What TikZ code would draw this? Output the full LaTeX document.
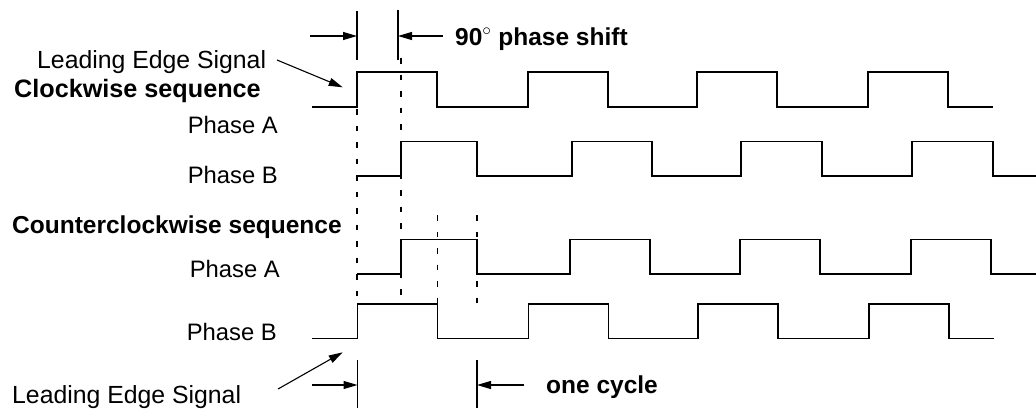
\documentclass[tikz,border=0pt]{standalone}
\usepackage{fontspec}
\setmainfont{Liberation Sans}
\usetikzlibrary{arrows.meta}
\tikzset{
  wave/.style={line width=1.2pt, line join=miter},
  guide/.style={line width=1.1pt, dash pattern=on 5.5pt off 11pt},
  tick/.style={line width=1.1pt},
  dimarrow/.style={line width=1.1pt, -{Triangle[length=14pt,width=8pt]}},
  lbl/.style={inner sep=0pt, font=\fontsize{23.8}{28}\selectfont},
  biglbl/.style={inner sep=0pt, font=\fontsize{24.8}{29}\selectfont},
  blbl/.style={inner sep=0pt, font=\fontsize{24.5}{29}\selectfont\bfseries},
}
\begin{document}
\begin{tikzpicture}[x=1pt,y=-1pt]
\useasboundingbox (0,0) rectangle (1036,408);
% labels
\node[biglbl, anchor=base west] (les1) at (37,68) {Leading Edge Signal};
\node[blbl, anchor=base west, font=\fontsize{25.2}{29}\selectfont\bfseries] (cw) at (14,97) {Clockwise sequence};
\node[lbl, anchor=base east] (cwa) at (278,133) {Phase A};
\node[lbl, anchor=base east] (cwb) at (278,183) {Phase B};
\node[blbl, anchor=base west] (ccw) at (12,233) {Counterclockwise sequence};
\node[lbl, anchor=base east] (ccwa) at (280,277) {Phase A};
\node[lbl, anchor=base east] (ccwb) at (277,340) {Phase B};
\node[biglbl, anchor=base west] (les2) at (12,403) {Leading Edge Signal};
\node[blbl, anchor=base west] (ps) at (455,45) {90$^\circ$ phase shift};
\node[blbl, anchor=base west] (oc) at (546,393) {one cycle};
% waveforms
\draw[wave] (312,107) -- (357,107) -- (357,72) -- (437,72) -- (437,107) -- (528,107) -- (528,72) -- (608,72) -- (608,107) -- (697,107) -- (697,72) -- (777,72) -- (777,107) -- (868,107) -- (868,72) -- (948,72) -- (948,107) -- (993,107);
\draw[wave] (357,176) -- (401,176) -- (401,141.5) -- (477,141.5) -- (477,176) -- (572,176) -- (572,141.5) -- (652,141.5) -- (652,176) -- (741,176) -- (741,141.5) -- (822,141.5) -- (822,176) -- (912,176) -- (912,141.5) -- (993,141.5) -- (993,176) -- (1036,176);
\draw[wave] (357,274) -- (401,274) -- (401,239.5) -- (477,239.5) -- (477,274) -- (570,274) -- (570,239.5) -- (650,239.5) -- (650,274) -- (740,274) -- (740,239.5) -- (820,239.5) -- (820,274) -- (911,274) -- (911,239.5) -- (991,239.5) -- (991,274) -- (1036,274);
\draw[wave] (312,338.5) -- (357.5,338.5) -- (357.5,304) -- (437.5,304) -- (437.5,338.5) -- (528.5,338.5) -- (528.5,304) -- (608.5,304) -- (608.5,338.5) -- (698,338.5) -- (698,304) -- (778,304) -- (778,338.5) -- (869,338.5) -- (869,304) -- (949,304) -- (949,338.5) -- (994,338.5);
% dashed guides
\coordinate (g1a) at (357,109); \coordinate (g1b) at (357,304);
\coordinate (g2a) at (401,58);  \coordinate (g2b) at (401,304);
\coordinate (g3a) at (437.5,215); \coordinate (g3b) at (437.5,304);
\coordinate (g4a) at (477,215); \coordinate (g4b) at (477,304);
\draw[guide] (g1a) -- (g1b);
\draw[guide] (g2a) -- (g2b);
\draw[guide] (g3a) -- (g3b);
\draw[guide] (g4a) -- (g4b);
% top dimension
\coordinate (t1a) at (357,11); \coordinate (t1b) at (357,60); \coordinate (t1m) at (357,36);
\coordinate (t2a) at (398,10); \coordinate (t2b) at (398,60); \coordinate (t2m) at (398,36);
\coordinate (t1s) at (310,36); \coordinate (t2s) at (443,36);
\draw[tick] (t1a) -- (t1b);
\draw[tick] (t2a) -- (t2b);
\draw[dimarrow] (t1s) -- (t1m);
\draw[dimarrow] (t2s) -- (t2m);
% bottom dimension
\coordinate (b1a) at (357.5,360); \coordinate (b1b) at (357.5,408); \coordinate (b1m) at (357.5,385);
\coordinate (b2a) at (477,360); \coordinate (b2b) at (477,408); \coordinate (b2m) at (477,385);
\coordinate (b1s) at (312,385); \coordinate (b2s) at (524,385);
\draw[tick] (b1a) -- (b1b);
\draw[tick] (b2a) -- (b2b);
\draw[dimarrow] (b1s) -- (b1m);
\draw[dimarrow] (b2s) -- (b2m);
% leading edge arrows
\coordinate (l1s) at (277,60); \coordinate (l1t) at (342.7,87.3);
\coordinate (l2s) at (278,389); \coordinate (l2t) at (342.7,352.3);
\draw[dimarrow] (l1s) -- (l1t);
\draw[dimarrow] (l2s) -- (l2t);
\end{tikzpicture}
\end{document}
